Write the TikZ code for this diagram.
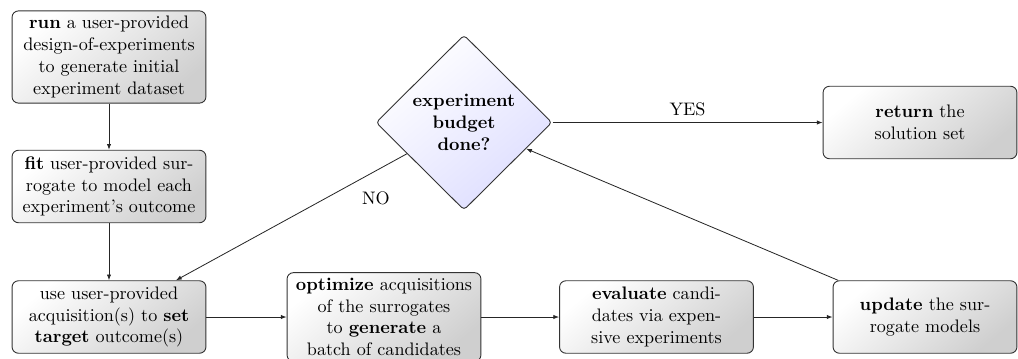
\documentclass[tikz,border=0pt]{standalone}
\usetikzlibrary{shapes.geometric,arrows.meta}
\begin{document}
\begin{tikzpicture}[x=0.552pt,y=-0.552pt,
  box/.style={draw=black!80, line width=0.5pt, rounded corners=3.5pt,
    top color=white, bottom color=black!19, shading angle=40,
    inner sep=3pt, text width=101pt, align=center, minimum height=40pt},
  dia/.style={diamond, aspect=1, draw=black!80, line width=0.5pt, rounded corners=2pt,
    top color=white, bottom color=blue!13, shading angle=40,
    inner sep=0pt, minimum width=97.2pt, minimum height=96.6pt,
    align=center, font=\bfseries},
  conn/.style={draw=black!85, line width=0.45pt, -{Latex[length=3.2pt,width=2.4pt]}}]
\useasboundingbox (0,0) rectangle (1018,358);

\node[box] (run) at (109,57) {\textbf{run} a user-provided\\design-of-experiments\\to generate initial\\experiment dataset};
\node[box] (fit) at (109,186.5) {\textbf{fit} user-provided sur-\\rogate to model each\\experiment's outcome};
\node[box] (use) at (109,317) {use user-provided\\acquisition(s) to \textbf{set}\\\textbf{target} outcome(s)};
\node[box] (opt) at (384,317) {\textbf{optimize} acquisitions\\of the surrogates\\to \textbf{generate} a\\batch of candidates};
\node[box] (eval) at (656.5,317) {\textbf{evaluate} candi-\\dates via expen-\\sive experiments};
\node[box, text width=95.5pt] (upd) at (925,317) {\textbf{update} the sur-\\rogate models};
\node[box] (ret) at (920,122.5) {\textbf{return} the\\solution set};
\node[dia] (dec) at (464,122.5) {experiment\\budget\\done?};

\draw[conn] (run) -- (fit);
\draw[conn] (fit) -- (use);
\draw[conn] (use) -- (opt);
\draw[conn] (opt) -- (eval);
\draw[conn] (eval) -- (upd);
\draw[conn] (upd) -- (dec);
\draw[conn] (dec) -- node[above] (yes) {YES} (ret);
\draw[conn] (dec) -- node[pos=0.134, yshift=-15.5pt] (no) {NO} (use);
\end{tikzpicture}
\end{document}
